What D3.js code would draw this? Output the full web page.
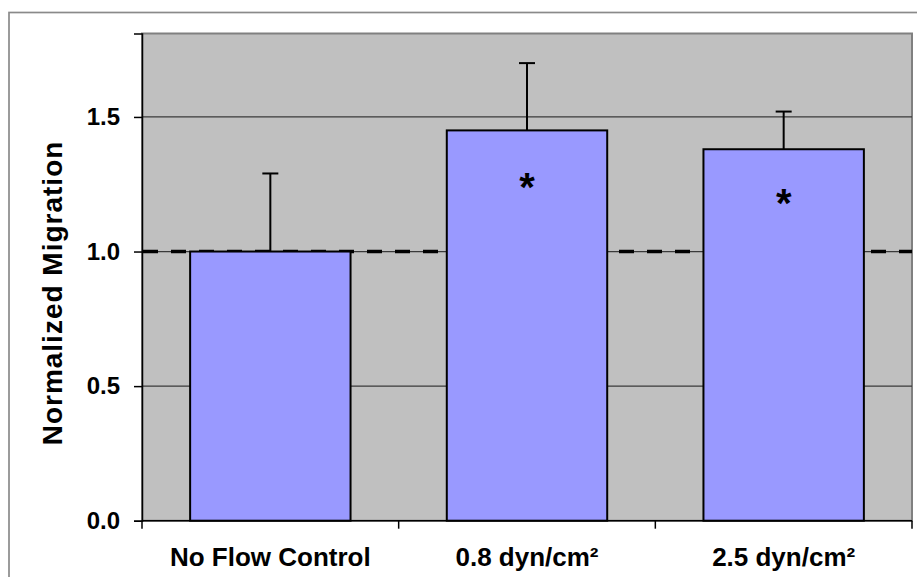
<!DOCTYPE html>
<html>
<head>
<meta charset="utf-8">
<script src="https://cdn.jsdelivr.net/npm/d3@7"></script>
<style>
  body { margin: 0; background: #fff; }
  svg { display: block; font-family: "Liberation Sans", Arial, sans-serif; }
</style>
</head>
<body>
<div id="chart"></div>
<script>
// Data
const categories = ["No Flow Control", "0.8 dyn/cm²", "2.5 dyn/cm²"]
const means = [1.0, 1.45, 1.38]
const errUp = [0.29, 0.25, 0.14]
const starAt = [null, 1.265, 1.206]   // where the "*" sits (in data units), null = none
const yTicks = [0.0, 0.5, 1.0, 1.5]
const referenceLevel = 1.0

const width = 917, height = 577
const plot = { left: 142, right: 912, top: 33.5, bottom: 520.7 }

const x = d3.scaleBand()
    .domain(categories)
    .range([plot.left, plot.right])
    .paddingInner(0.375)
    .paddingOuter(0.1875)

const y = d3.scaleLinear().domain([0, 1.81]).range([plot.bottom, plot.top])

const svg = d3.select('#chart').append('svg')
    .attr('width', width)
    .attr('height', height)

// outer chart frame (runs off the page to the right and bottom)
svg.append('rect')
    .attr('x', 9).attr('y', 12.5)
    .attr('width', width).attr('height', height)
    .attr('fill', 'none')
    .attr('stroke', '#8a8a8a')
    .attr('stroke-width', 1.7)

// plot area
svg.append('rect')
    .attr('x', plot.left).attr('y', plot.top)
    .attr('width', plot.right - plot.left)
    .attr('height', plot.bottom - plot.top)
    .attr('fill', '#c0c0c0')
    .attr('stroke', '#808080')
    .attr('stroke-width', 2)

// gridlines
svg.append('g')
    .selectAll('line')
    .data(yTicks.filter(d => d > 0))
    .join('line')
    .attr('x1', plot.left).attr('x2', plot.right)
    .attr('y1', d => y(d)).attr('y2', d => y(d))
    .attr('stroke', '#3a3a3a')
    .attr('stroke-width', 1.2)

// dashed reference line
svg.append('line')
    .attr('x1', plot.left + 1).attr('x2', plot.right)
    .attr('y1', y(referenceLevel)).attr('y2', y(referenceLevel))
    .attr('stroke', '#000')
    .attr('stroke-width', 3.5)
    .attr('stroke-dasharray', '15,13')

const data = categories.map((c, i) => ({ c, m: means[i], e: errUp[i], s: starAt[i] }))

// error bars (upper only)
const err = svg.append('g')
err.selectAll('line.stem')
    .data(data)
    .join('line')
    .attr('class', 'stem')
    .attr('x1', d => x(d.c) + x.bandwidth() / 2)
    .attr('x2', d => x(d.c) + x.bandwidth() / 2)
    .attr('y1', d => y(d.m))
    .attr('y2', d => y(d.m + d.e))
    .attr('stroke', '#000')
    .attr('stroke-width', 2)
err.selectAll('line.cap')
    .data(data)
    .join('line')
    .attr('class', 'cap')
    .attr('x1', d => x(d.c) + x.bandwidth() / 2 - 8)
    .attr('x2', d => x(d.c) + x.bandwidth() / 2 + 8)
    .attr('y1', d => y(d.m + d.e))
    .attr('y2', d => y(d.m + d.e))
    .attr('stroke', '#000')
    .attr('stroke-width', 2)

// bars
svg.append('g')
    .selectAll('rect')
    .data(data)
    .join('rect')
    .attr('x', d => x(d.c))
    .attr('y', d => y(d.m))
    .attr('width', x.bandwidth())
    .attr('height', d => y(0) - y(d.m))
    .attr('fill', '#9999ff')
    .attr('stroke', '#000')
    .attr('stroke-width', 2)

// significance stars
svg.append('g')
    .selectAll('text')
    .data(data.filter(d => d.s != null))
    .join('text')
    .attr('x', d => x(d.c) + x.bandwidth() / 2)
    .attr('y', d => y(d.s) + 21)
    .attr('text-anchor', 'middle')
    .attr('font-weight', 'bold')
    .attr('font-size', 40)
    .text('*')

// y axis
const yAxis = svg.append('g')
    .attr('transform', `translate(${plot.left},0)`)
    .call(d3.axisLeft(y).tickValues(yTicks).tickSize(8).tickPadding(14).tickFormat(d3.format('.1f')))
yAxis.select('.domain').attr('stroke', '#000').attr('stroke-width', 1.5)
yAxis.selectAll('.tick line').attr('stroke', '#000').attr('stroke-width', 1.5)
yAxis.selectAll('.tick text')
    .attr('font-size', 24)
    .attr('font-weight', 'bold')
    .attr('fill', '#000')
    .attr('font-family', '"Liberation Sans", Arial, sans-serif')

// x axis line and category boundary ticks
const xg = svg.append('g')
xg.append('line')
    .attr('x1', plot.left).attr('x2', plot.right)
    .attr('y1', y(0)).attr('y2', y(0))
    .attr('stroke', '#000')
    .attr('stroke-width', 1.5)
const step = x.step()
const bounds = categories.map(c => x(c) - x.paddingOuter() * step).concat([plot.right])
xg.selectAll('line.tick')
    .data(bounds)
    .join('line')
    .attr('class', 'tick')
    .attr('x1', d => d).attr('x2', d => d)
    .attr('y1', y(0)).attr('y2', y(0) + 8)
    .attr('stroke', '#000')
    .attr('stroke-width', 1.5)
xg.selectAll('text')
    .data(categories)
    .join('text')
    .attr('x', d => x(d) + x.bandwidth() / 2)
    .attr('y', 566)
    .attr('text-anchor', 'middle')
    .attr('font-size', 26)
    .attr('font-weight', 'bold')
    .text(d => d)

// y axis title
svg.append('text')
    .attr('transform', 'translate(62,293) rotate(-90)')
    .attr('text-anchor', 'middle')
    .attr('font-size', 28)
    .attr('font-weight', 'bold')
    .attr('letter-spacing', 1)
    .text('Normalized Migration')
</script>
</body>
</html>
